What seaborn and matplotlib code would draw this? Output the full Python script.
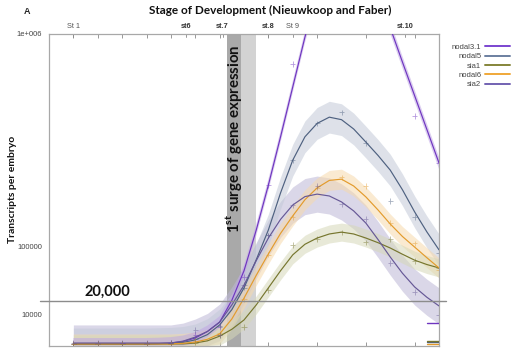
import numpy as np
import pandas as pd
import matplotlib
matplotlib.use("Agg")
import matplotlib.pyplot as plt
import matplotlib.transforms as mtrans
from matplotlib.lines import Line2D
import seaborn as sns

# ---------------- data ----------------
genes = ["nodal3.1", "nodal5", "sia1", "nodal6", "sia2"]

# fitted curves (transcripts per embryo), read every quarter hour
fit_hours = [0, 0.25, 0.5, 0.75, 1, 1.25, 1.5, 1.75, 2, 2.25, 2.5, 2.75, 3, 3.25, 3.5, 3.75,
             4, 4.25, 4.5, 4.75, 5, 5.25, 5.5, 5.75, 6, 6.25, 6.5, 6.75, 7, 7.25, 7.5]
fit_nodal31 = [25, 25, 25, 25, 25, 25, 25, 36, 64, 169, 576, 2025, 5625, 21025, 57600, 136900,
               265225, 448900, 688900, 980100, 1276900, 1488400, 1587600, 1562500, 1440000,
               1254400, 1040400, 828100, 643204, 481636, 343396]
fit_nodal5 = [25, 25, 25, 25, 25, 25, 25, 36, 49, 100, 324, 1225, 4356, 13225, 34225, 75625,
              137641, 240100, 354025, 448900, 508369, 537289, 525625, 483025, 426409, 372100,
              316969, 250000, 184041, 133225, 94249]
fit_sia1 = [25, 25, 25, 25, 25, 25, 25, 25, 25, 25, 64, 225, 900, 2704, 6724, 16900,
            34225, 57600, 84681, 105625, 119025, 128164, 132496, 128164, 119025, 108900,
            97969, 85849, 75076, 67600, 62001]
fit_nodal6 = [25, 25, 25, 25, 25, 25, 25, 25, 25, 49, 121, 400, 1369, 7225, 23104, 50625,
              86436, 129600, 173056, 219024, 256036, 280900, 285156, 262144, 227529, 189225,
              152100, 122500, 99856, 79524, 62001]
fit_sia2 = [64, 64, 64, 64, 64, 64, 64, 64, 64, 196, 729, 2025, 5625, 16900, 37636, 73984,
            119025, 164025, 203401, 228484, 236196, 230400, 212521, 186624, 154449, 115600,
            80656, 53824, 35344, 24025, 16129]

# measured samples, every half hour
sample_hours = [0, 0.5, 1, 1.5, 2, 2.5, 3, 3.5, 4, 4.5, 5, 5.5, 6, 6.5, 7, 7.5]
pts_nodal31 = [40, 30, 45, 30, 90, 1150, 3500, 48400, 265000, 817000, 1300000, 1600000, 1500000, 1100000, 543000, 343000]
pts_nodal5 = [30, 40, 25, 30, 60, 400, 4000, 34200, 125000, 354000, 508000, 561000, 422500, 215000, 170000, 88000]
pts_sia1 = [20, 30, 25, 35, 30, 90, 1100, 3500, 31700, 104000, 117000, 132000, 110000, 117000, 73600, 62000]
pts_nodal6 = [30, 25, 35, 25, 30, 200, 1500, 22000, 84700, 170000, 256000, 291000, 262000, 154700, 108000, 58700]
pts_sia2 = [90, 70, 60, 80, 70, 2500, 1150, 38000, 125000, 203000, 262000, 206000, 165000, 70000, 29500, 9600]

# confidence band half-width (in sqrt units)
ci_halfwidth = {"nodal3.1": 19, "nodal5": 51, "sia1": 29, "nodal6": 32, "sia2": 58}

stage_labels = ["St 1", "st6", "st.7", "st.8", "St 9", "st.10"]
stage_hours = [0, 2.32, 3.06, 4.0, 4.5, 6.8]
stage_bold = [False, True, True, True, False, True]

ytick_vals = [10000, 100000, 1000000]
ytick_labels = ["10000", "100000", "1e+006"]
xtick_vals = [0, 0.5, 1, 1.5, 2, 2.5, 3, 4, 5, 6, 7]

threshold = 20000

fits = {"nodal3.1": fit_nodal31, "nodal5": fit_nodal5, "sia1": fit_sia1,
        "nodal6": fit_nodal6, "sia2": fit_sia2}
pts = {"nodal3.1": pts_nodal31, "nodal5": pts_nodal5, "sia1": pts_sia1,
       "nodal6": pts_nodal6, "sia2": pts_sia2}

line_colors = {"nodal3.1": "#6F35C0", "nodal5": "#4E6180", "sia1": "#76762E",
               "nodal6": "#E39B2C", "sia2": "#665896"}
band_colors = {"nodal3.1": "#BFA6E4", "nodal5": "#C3CAD8", "sia1": "#D6D8B8",
               "nodal6": "#F6D9AC", "sia2": "#BDB7D6"}
legend_colors = {"nodal3.1": "#7B45D0", "nodal5": "#6B7FA0", "sia1": "#85853A",
                 "nodal6": "#F0A838", "sia2": "#7262B2"}

fit_df = pd.DataFrame([(h, g, v) for g in genes for h, v in zip(fit_hours, fits[g])],
                      columns=["hours", "gene", "value"])
pts_df = pd.DataFrame([(h, g, v) for g in genes for h, v in zip(sample_hours, pts[g])],
                      columns=["hours", "gene", "value"])

# ---------------- figure ----------------
sns.set_theme(style="white")
plt.rcParams["font.family"] = ["Liberation Sans", "DejaVu Sans"]
plt.rcParams["mathtext.fontset"] = "custom"
plt.rcParams["mathtext.bf"] = "Lato:bold"
plt.rcParams["mathtext.rm"] = "Lato"

fig = plt.figure(figsize=(5.17, 3.49), dpi=100)
ax = fig.add_axes([49 / 517, 1 - 345.5 / 349, (439 - 49) / 517, (345.5 - 34) / 349])

ax.set_yscale("function", functions=(lambda y: np.sqrt(np.clip(y, 0, None)), lambda y: np.square(y)))
ax.set_xlim(-0.5, 7.5)
ax.set_ylim(0, 1e6)

# surge bands
ax.axvspan(3.16, 3.44, color="#A9A9A9", zorder=0, lw=0)
ax.axvspan(3.44, 3.74, color="#D3D3D3", zorder=0, lw=0)

# CI bands
h_arr = np.array(fit_hours, dtype=float)
for g in ["sia2", "nodal5", "nodal6", "sia1", "nodal3.1"]:
    s = np.sqrt(np.array(fits[g], dtype=float))
    w = ci_halfwidth[g]
    lo = np.clip(s - w, 0, None) ** 2
    hi = (s + w) ** 2
    ax.fill_between(h_arr, lo, hi, color=band_colors[g], alpha=0.55, lw=0, zorder=1)

sns.lineplot(data=fit_df, x="hours", y="value", hue="gene", hue_order=genes,
             palette=line_colors, linewidth=0.85, legend=False, ax=ax, zorder=3)
sns.scatterplot(data=pts_df, x="hours", y="value", hue="gene", hue_order=genes,
                palette=line_colors, marker="+", s=14, linewidth=0.6, alpha=0.5,
                legend=False, ax=ax, zorder=4, clip_on=True)

# threshold line (extends beyond the axes a little)
blend = mtrans.blended_transform_factory(ax.transAxes, ax.transData)
ax.plot([-0.023, 1.018], [threshold, threshold], color="#8C8C8C", lw=1.0,
        transform=blend, clip_on=False, zorder=5)
ax.text(0.7, threshold * 1.12, "20,000", fontsize=10.5, fontweight="bold",
        family="Lato", color="#111111", ha="center", va="bottom", zorder=6)

# small marks at the right edge
ax.plot([0.969, 1.0], [0.072, 0.072], color="#6F35C0", lw=1.0, transform=ax.transAxes, zorder=5)
for yy, c in zip([0.006, 0.011, 0.016], ["#E39B2C", "#4E6180", "#76762E"]):
    ax.plot([0.969, 1.0], [yy, yy], color=c, lw=1.0, transform=ax.transAxes, zorder=5)

# surge text
ax.text(3.28, 0.665, r"1$^{\mathbf{st}}$ surge of gene expression", rotation=90,
        transform=mtrans.blended_transform_factory(ax.transData, ax.transAxes),
        fontsize=10.8, fontweight="bold", family="Lato", color="#111111",
        ha="center", va="center", zorder=6)

# axes styling
for sp in ax.spines.values():
    sp.set_color("#A8A8A8")
    sp.set_linewidth(0.9)
ax.set_yticks(ytick_vals)
ax.set_yticklabels(ytick_labels)
ax.set_xticks(xtick_vals)
ax.set_xticklabels([])
ax.tick_params(axis="y", labelsize=5.5, colors="#444444", length=3, width=0.6, direction="out", pad=2)
ax.tick_params(axis="y", which="both", color="#888888")
ax.tick_params(axis="x", bottom=True, top=True, length=3, width=0.6, direction="in", color="#888888")
ax.set_xlabel("")
ax.set_ylabel("Transcripts per embryo", fontsize=7.5, fontweight="bold", family="Lato",
              color="#111111")
ax.yaxis.set_label_coords(-0.083, 0.5)

# stage labels on top
tb = mtrans.blended_transform_factory(ax.transData, ax.transAxes)
for lab, hh, b in zip(stage_labels, stage_hours, stage_bold):
    ax.text(hh, 1.012, lab, transform=tb, fontsize=5.3, ha="center", va="bottom",
            fontweight="bold" if b else "normal", color="#333333" if b else "#555555")
    ax.plot([hh, hh], [1.0, 0.99], transform=tb, color="#888888", lw=0.6, clip_on=False)

fig.text(270 / 517, 1 - 10 / 349, "Stage of Development (Nieuwkoop and Faber)",
         fontsize=8.5, fontweight="bold", family="Lato", ha="center", va="center", color="#111111")
fig.text(27 / 517, 1 - 11 / 349, "A", fontsize=6.5, fontweight="bold", ha="center", va="center")

# legend
handles = [Line2D([0], [0], color=legend_colors[g], lw=1.4) for g in genes]
leg = fig.legend(handles, genes, loc="upper left", bbox_to_anchor=(448 / 517, 1 - 40 / 349),
                 frameon=False, markerfirst=False, fontsize=5.5, handlelength=3.2,
                 handletextpad=0.5, labelspacing=0.25, borderpad=0)
for t in leg.get_texts():
    t.set_color("#444444")
    t.set_ha("right")

fig.savefig("out.png", dpi=100)
